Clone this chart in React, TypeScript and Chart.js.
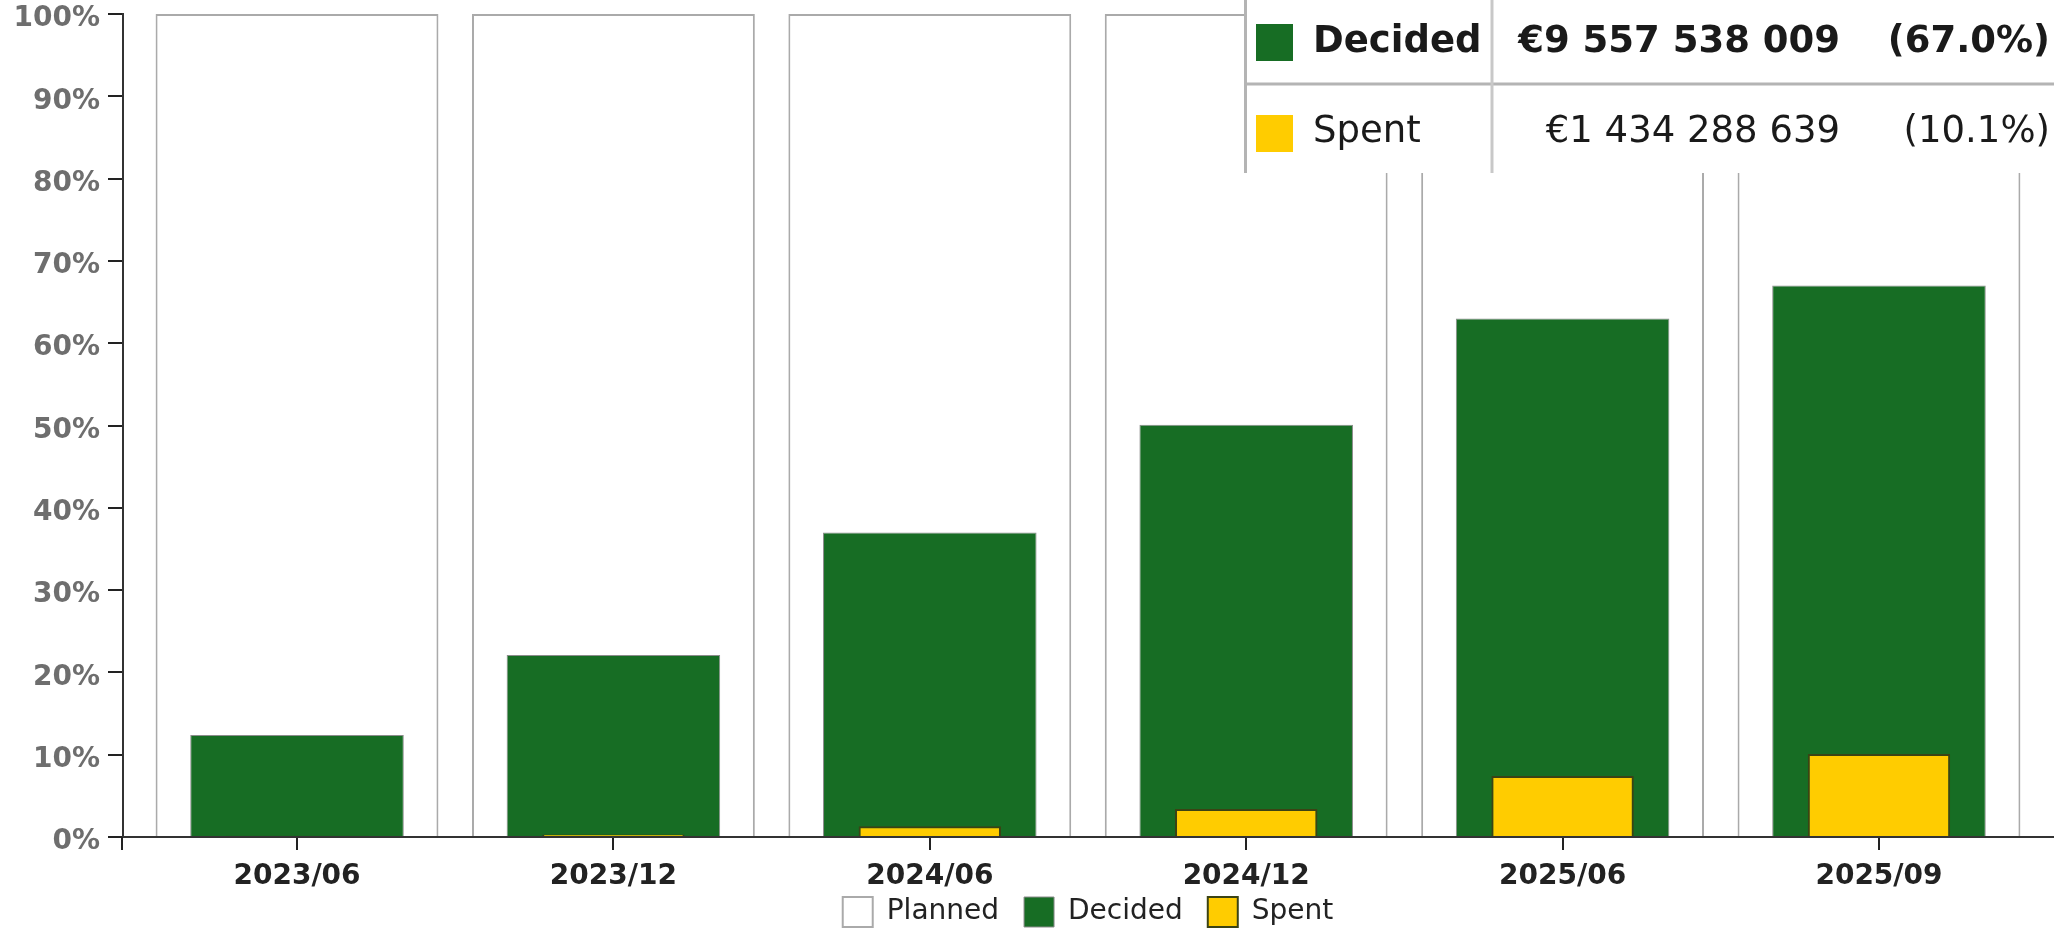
import React, { useEffect, useRef } from 'react';
import { Chart, registerables } from 'chart.js';

Chart.register(...registerables);

// Reporting periods and the share of the planned budget per period (%)
const periods = ['2023/06', '2023/12', '2024/06', '2024/12', '2025/06', '2025/09'];
const plannedPct = [100, 100, 100, 100, 100, 100];
const decidedPct = [12.4, 22.1, 37.0, 50.1, 63.0, 67.0];
const spentPct = [0.15, 0.3, 1.3, 3.4, 7.4, 10.1];

// Totals shown in the summary panel for the latest period
const decidedTotalEur = 9557538009;
const spentTotalEur = 1434288639;

const FONT = '"DejaVu Sans", Verdana, sans-serif';
const GREEN = '#176d24';
const YELLOW = '#ffcc00';

const toPoints = (vals: number[]) => vals.map((y, x) => ({ x, y }));
const formatEur = (n: number) => '€' + String(n).replace(/\B(?=(\d{3})+(?!\d))/g, ' ');

// Short downward continuation of the y axis below the x axis
const axisFoot = {
  id: 'axisFoot',
  afterDraw(chart: any) {
    const { ctx, chartArea } = chart;
    ctx.save();
    ctx.strokeStyle = '#222';
    ctx.lineWidth = 2;
    ctx.beginPath();
    ctx.moveTo(chartArea.left - 1, chartArea.bottom);
    ctx.lineTo(chartArea.left - 1, chartArea.bottom + 13);
    ctx.stroke();
    ctx.restore();
  },
};

// Pull the legend up so its items sit flush with the top of its box
const legendFlush = {
  id: 'legendFlush',
  afterLayout(chart: any) {
    const legend = chart.legend;
    if (!legend) return;
    const pad = legend.options.labels.padding;
    legend.top -= pad;
    legend.bottom -= pad;
  },
};

// Summary table for the latest period, pinned to the top-right corner
const summaryPanel = {
  id: 'summaryPanel',
  afterDraw(chart: any) {
    const { ctx, width } = chart;
    const left = width - 810;
    const split = width - 562;
    const bottom = 173;
    const rowSep = 84;
    const last = periods.length - 1;
    const rows = [
      { label: 'Decided', amount: decidedTotalEur, pct: decidedPct[last], color: GREEN, bold: true, mid: 42.5, base: 52 },
      { label: 'Spent', amount: spentTotalEur, pct: spentPct[last], color: YELLOW, bold: false, mid: 133.5, base: 142 },
    ];
    ctx.save();
    ctx.fillStyle = '#ffffff';
    ctx.fillRect(left, 0, width - left, bottom);
    ctx.lineWidth = 3;
    ctx.strokeStyle = '#b4b4b4';
    ctx.beginPath();
    ctx.moveTo(left + 1.5, 0);
    ctx.lineTo(left + 1.5, bottom);
    ctx.moveTo(left, rowSep);
    ctx.lineTo(width, rowSep);
    ctx.stroke();
    ctx.strokeStyle = '#c8c8c8';
    ctx.beginPath();
    ctx.moveTo(split, 0);
    ctx.lineTo(split, bottom);
    ctx.stroke();
    for (const r of rows) {
      ctx.fillStyle = r.color;
      ctx.fillRect(left + 12, r.mid - 18.5, 37, 37);
      ctx.fillStyle = '#1a1a1a';
      ctx.font = `${r.bold ? 'bold ' : ''}37px ${FONT}`;
      ctx.textBaseline = 'alphabetic';
      ctx.textAlign = 'left';
      ctx.fillText(r.label, left + 69, r.base);
      ctx.textAlign = 'right';
      ctx.fillText(formatEur(r.amount), width - 214, r.base);
      ctx.fillText(`(${r.pct.toFixed(1)}%)`, width - 4, r.base);
    }
    ctx.restore();
  },
};

export default function App() {
  const ref = useRef<HTMLCanvasElement>(null);

  useEffect(() => {
    document.body.style.margin = '0';
    const chart = new Chart(ref.current as HTMLCanvasElement, {
      type: 'bar',
      data: {
        datasets: [
          {
            label: 'Planned',
            data: toPoints(plannedPct),
            backgroundColor: '#ffffff',
            borderColor: '#aaaaaa',
            borderWidth: 2,
            barPercentage: 0.894,
            categoryPercentage: 1,
            grouped: false,
            order: 3,
          },
          {
            label: 'Decided',
            data: toPoints(decidedPct),
            backgroundColor: GREEN,
            borderColor: '#8c8c8c',
            borderWidth: 1,
            barPercentage: 0.675,
            categoryPercentage: 1,
            grouped: false,
            order: 2,
          },
          {
            label: 'Spent',
            data: toPoints(spentPct),
            backgroundColor: YELLOW,
            borderColor: '#3b4314',
            borderWidth: 2,
            barPercentage: 0.45,
            categoryPercentage: 1,
            grouped: false,
            order: 1,
          },
        ],
      } as any,
      options: {
        animation: false,
        responsive: false,
        maintainAspectRatio: false,
        devicePixelRatio: 1,
        layout: { padding: { top: 0, right: 1, bottom: -33, left: 0 } },
        scales: {
          x: {
            type: 'linear',
            min: -0.55,
            max: 5.55,
            offset: false,
            afterBuildTicks: (s: any) => {
              s.ticks = periods.map((_, i) => ({ value: i }));
            },
            afterFit: (s: any) => {
              s.height = 60;
            },
            ticks: {
              callback: (v: any) => periods[v] ?? '',
              font: { family: FONT, size: 28, weight: 'bold' },
              color: '#222',
              padding: 10,
              maxRotation: 0,
              autoSkip: false,
            },
            grid: { offset: false, drawOnChartArea: false, drawTicks: true, tickLength: 13, color: '#222', lineWidth: 2 },
            border: { display: true, color: '#333', width: 2 },
          },
          y: {
            min: 0,
            max: 100,
            afterFit: (s: any) => {
              s.width = 123;
              s.paddingTop = 14;
            },
            ticks: {
              stepSize: 10,
              callback: (v: any) => v + '%',
              font: { family: FONT, size: 28, weight: 'bold', lineHeight: 1 },
              color: '#6e6e6e',
              padding: 8,
              labelOffset: 5,
            },
            grid: { drawOnChartArea: false, tickLength: 15, color: '#222', lineWidth: 2 },
            border: { color: '#333', width: 2 },
          },
        },
        plugins: {
          legend: {
            position: 'bottom',
            fullSize: false,
            reverse: true,
            labels: {
              boxWidth: 30,
              boxHeight: 30,
              padding: 25,
              font: { family: FONT, size: 28 },
              color: '#222',
            },
          },
          tooltip: { enabled: false },
        },
      } as any,
      plugins: [axisFoot, legendFlush, summaryPanel],
    });
    return () => chart.destroy();
  }, []);

  return (
    <div style={{ width: 2054, height: 929, overflow: 'hidden' }}>
      <canvas ref={ref} width={2054} height={929} style={{ display: 'block' }} />
    </div>
  );
}
